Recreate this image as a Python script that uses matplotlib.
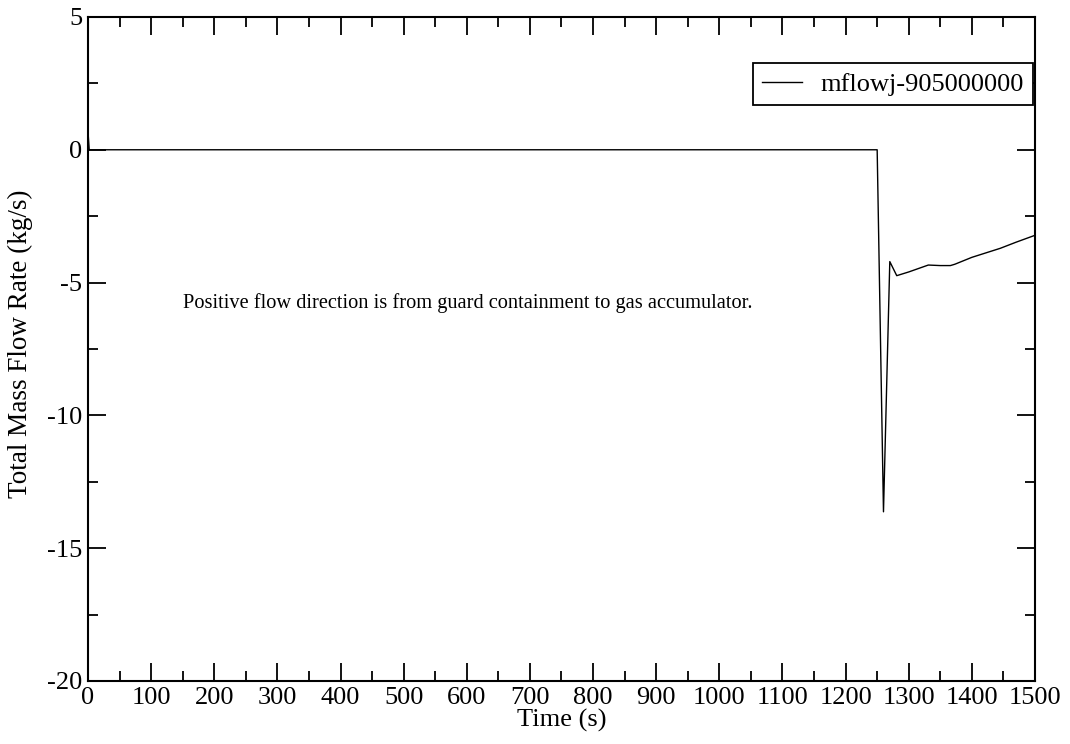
import matplotlib
matplotlib.use('Agg')
import matplotlib.pyplot as plt
from matplotlib.ticker import MultipleLocator

plt.rcParams['font.family'] = ['Liberation Serif', 'DejaVu Serif']
plt.rcParams['axes.unicode_minus'] = False

# data
time = [0, 2, 1250, 1260, 1270, 1281, 1300, 1331, 1350, 1366, 1373, 1400, 1445, 1470, 1500]
mflow = [0.7, 0.0, 0.0, -13.63, -4.21, -4.74, -4.6, -4.34, -4.36, -4.36, -4.31, -4.05, -3.71, -3.48, -3.22]

series_label = 'mflowj-905000000'
note = 'Positive flow direction is from guard containment to gas accumulator.'

fig = plt.figure(figsize=(10.7, 7.44), dpi=100)
ax = fig.add_axes([0.0822, 0.0847, 0.8851, 0.8925])

ax.plot(time, mflow, color='black', linewidth=1.0, label=series_label)

ax.set_xlim(0, 1500)
ax.set_ylim(-20, 5)
ax.xaxis.set_major_locator(MultipleLocator(100))
ax.xaxis.set_minor_locator(MultipleLocator(50))
ax.yaxis.set_major_locator(MultipleLocator(5))
ax.yaxis.set_minor_locator(MultipleLocator(2.5))
ax.tick_params(which='both', direction='in', top=True, right=True, width=1.3, labelsize=19)
ax.tick_params(which='major', length=13, pad=4)
ax.tick_params(which='minor', length=7)
for sp in ax.spines.values():
    sp.set_linewidth(1.5)

ax.set_xlabel('Time (s)', fontsize=19, labelpad=0)
ax.set_ylabel('Total Mass Flow Rate (kg/s)', fontsize=19.5)
ax.yaxis.set_label_coords(-0.058, 0.508)

ax.text(150, -5.77, note, fontsize=14.7, va='center', ha='left')

leg = ax.legend(loc='upper right', bbox_to_anchor=(0.998, 0.93), fontsize=19,
                fancybox=False, edgecolor='black', framealpha=1, handlelength=1.5,
                handletextpad=0.7, borderpad=0.35, borderaxespad=0)
leg.get_frame().set_linewidth(1.3)

fig.savefig('out.png', dpi=100)
